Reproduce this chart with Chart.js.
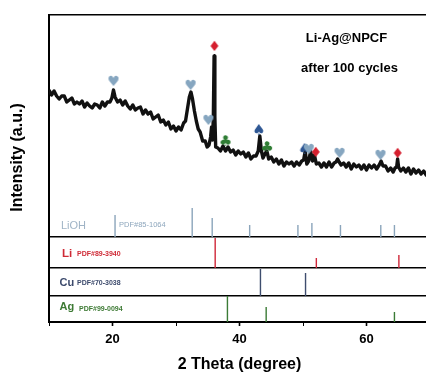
<!DOCTYPE html>
<html>
<head>
<meta charset="utf-8">
<script src="https://cdn.jsdelivr.net/npm/chart.js@4"></script>
<style>
  html, body { margin: 0; padding: 0; background: #fff; overflow: hidden; }
  #wrap { width: 438px; height: 374px; }
</style>
</head>
<body>
<div id="wrap"><canvas id="xrd" width="438" height="374"></canvas></div>
<script>
// measured pattern (2 theta, intensity in a.u.)
const twoTheta = [
  10.0, 10.4, 10.8, 11.2, 11.6, 12.0, 12.4, 12.8, 13.2, 13.6, 14.0, 14.4, 14.8, 15.2, 15.6, 16.0,
  16.4, 16.8, 17.2, 17.6, 18.0, 18.4, 18.8, 19.2, 19.6, 19.9, 20.15, 20.4, 20.8, 21.2, 21.6, 22.0,
  22.4, 22.8, 23.2, 23.6, 24.0, 24.4, 24.8, 25.2, 25.6, 26.0, 26.4, 26.8, 27.2, 27.6, 28.0, 28.4,
  28.8, 29.2, 29.6, 30.0, 30.4, 30.8, 31.2, 31.5, 31.8, 32.1, 32.35, 32.6, 32.9, 33.2, 33.5, 33.8,
  34.2, 34.6, 34.9, 35.2, 35.45, 35.6, 35.75, 35.88, 36.0, 36.12, 36.25, 36.6, 37.0, 37.4, 37.8, 38.2,
  38.6, 39.0, 39.4, 39.8, 40.2, 40.6, 41.0, 41.4, 41.8, 42.2, 42.6, 42.95, 43.2, 43.45, 43.7, 44.0,
  44.3, 44.6, 45.0, 45.4, 45.8, 46.2, 46.6, 47.0, 47.4, 47.8, 48.2, 48.6, 49.0, 49.4, 49.8, 50.1,
  50.35, 50.6, 50.9, 51.2, 51.5, 51.8, 52.1, 52.5, 52.9, 53.3, 53.7, 54.1, 54.5, 54.9, 55.2, 55.45,
  55.7, 56.0, 56.4, 56.8, 57.2, 57.6, 58.0, 58.4, 58.8, 59.2, 59.6, 60.0, 60.4, 60.8, 61.2, 61.6,
  62.0, 62.3, 62.6, 63.0, 63.4, 63.8, 64.2, 64.5, 64.75, 64.9, 65.05, 65.4, 65.8, 66.2, 66.6, 67.0,
  67.4, 67.8, 68.2, 68.6, 69.0, 69.4, 69.8, 70.0
];
const intensity = [
  147, 142, 146, 141, 138, 141, 141, 135, 137, 139, 133, 135, 133, 136, 130, 134,
  131, 129, 133, 132, 129, 135, 131, 135, 135, 139, 147, 140, 135, 137, 132, 136,
  131, 128, 132, 127, 129, 130, 123, 127, 123, 125, 118, 120, 122, 115, 117, 112,
  115, 108, 111, 106, 110, 107, 114, 116, 128, 140, 145, 138, 126, 116, 108, 105,
  96, 96, 90, 92, 100, 110, 97, 120, 181, 120, 90, 89, 86, 91, 86, 90,
  85, 87, 82, 86, 83, 85, 80, 84, 78, 81, 81, 86, 101, 86, 79, 83,
  86, 78, 80, 75, 78, 73, 77, 71, 75, 73, 75, 71, 75, 72, 76, 77,
  86, 73, 76, 86, 76, 82, 73, 74, 70, 74, 70, 75, 70, 74, 75, 78,
  75, 72, 74, 70, 74, 68, 73, 70, 72, 68, 72, 67, 72, 69, 72, 68,
  72, 76, 71, 71, 66, 69, 65, 69, 70, 78, 70, 66, 69, 65, 69, 63,
  68, 64, 67, 63, 66, 62, 64, 63
];

// reference cards (position, relative stick height)
const lohPos = [20.4, 32.55, 35.7, 41.6, 49.2, 51.4, 55.9, 62.25, 64.4];
const lohH = [22, 29, 19, 12, 12, 14, 12, 12, 12];
const liPos = [36.17, 52.1, 65.1];
const liH = [30, 10, 13];
const cuPos = [43.3, 50.4];
const cuH = [27, 23];
const agPos = [38.1, 44.2, 64.4];
const agH = [26, 15, 10];

// peak markers
const heartX = [20.15, 32.3, 35.1, 50.9, 55.75, 62.2];
const heartY = [155, 151, 116, 87, 83, 81];
const diamondX = [36.05, 52.0, 64.9];
const diamondY = [190, 84, 83];
const clubX = [37.8, 44.35];
const clubY = [95, 89];
const spadeX = [43.05, 50.25];
const spadeY = [106, 87];

const xTicks = [20, 40, 60];

const FONT = '"Liberation Sans", Arial, sans-serif';

function pairs(xs, ys) {
  return xs.map((x, i) => ({ x: x, y: ys[i] }));
}

function sticks(pos, h) {
  const pts = [];
  pos.forEach((p, i) => {
    pts.push({ x: p, y: 0 }, { x: p, y: h[i] }, { x: p, y: null });
  });
  return pts;
}

function glyph(ch, color, size) {
  const c = document.createElement('canvas');
  c.width = 16;
  c.height = 16;
  const g = c.getContext('2d');
  g.fillStyle = color;
  g.font = size + 'px "DejaVu Sans"';
  g.textAlign = 'center';
  g.textBaseline = 'middle';
  g.fillText(ch, 8, 8.5);
  return c;
}

function marker(xs, ys, ch, color, size) {
  return {
    type: 'scatter',
    data: pairs(xs, ys),
    yAxisID: 'yMain',
    pointStyle: glyph(ch, color, size),
    pointRadius: 7,
    showLine: false
  };
}

function stickSet(pos, h, color, axis) {
  return {
    type: 'line',
    data: sticks(pos, h),
    yAxisID: axis,
    borderColor: color,
    borderWidth: 1.4,
    pointRadius: 0,
    spanGaps: false
  };
}

// texts placed around the frame
const texts = {
  id: 'texts',
  afterDraw(chart) {
    const ctx = chart.ctx;
    ctx.save();
    ctx.textBaseline = 'middle';

    ctx.fillStyle = '#000';
    ctx.textAlign = 'center';
    ctx.font = 'bold 13px ' + FONT;
    ctx.fillText('Li-Ag@NPCF', 346.5, 38);
    ctx.fillText('after 100 cycles', 349.5, 68.5);

    ctx.save();
    ctx.translate(17.5, 157.5);
    ctx.rotate(-Math.PI / 2);
    ctx.font = 'bold 16px ' + FONT;
    ctx.fillText('Intensity (a.u.)', 0, 0);
    ctx.restore();

    ctx.textAlign = 'left';
    const rows = [
      ['LiOH', '11px', '#a0b4c6', 61, 225.5],
      ['PDF#85-1064', '7.5px', '#8ea7bd', 119, 225],
      ['Li', 'bold 11.5px', '#cf2a36', 62, 253.5],
      ['PDF#89-3940', 'bold 7px', '#cf2a36', 77, 254],
      ['Cu', 'bold 11px', '#3c4a6c', 59.5, 282.5],
      ['PDF#70-3038', 'bold 7px', '#3c4a6c', 77, 283],
      ['Ag', 'bold 11px', '#3d7a34', 59.5, 306.5],
      ['PDF#99-0094', 'bold 7px', '#3d7a34', 79, 309]
    ];
    rows.forEach(r => {
      ctx.font = r[1] + ' ' + FONT;
      ctx.fillStyle = r[2];
      ctx.fillText(r[0], r[3], r[4]);
    });
    ctx.restore();
  }
};

function panelAxis(max, weight, tickVals) {
  return {
    type: 'linear',
    position: 'left',
    stack: 'xrd',
    stackWeight: max,
    weight: weight,
    min: 0,
    max: max,
    afterFit: s => { s.width = 0; },
    afterBuildTicks: s => { s.ticks = tickVals.map(v => ({ value: v })); },
    ticks: { display: false },
    grid: { color: '#000', lineWidth: 1.6, drawTicks: false },
    border: { color: '#000', width: 2 }
  };
}

new Chart(document.getElementById('xrd'), {
  type: 'line',
  data: {
    datasets: [
      marker(heartX, heartY, '\u2665', '#86a6c0', 14),
      marker(diamondX, diamondY, '\u2666', '#d51f2e', 14),
      marker(clubX, clubY, '\u2663', '#2f7d34', 15),
      marker(spadeX, spadeY, '\u2660', '#2e5794', 15),
      {
        data: pairs(twoTheta, intensity),
        yAxisID: 'yMain',
        borderColor: '#111',
        borderWidth: 3.4,
        borderJoinStyle: 'round',
        pointRadius: 0,
        tension: 0
      },
      stickSet(lohPos, lohH, '#8ba5bb', 'yMain'),
      stickSet(liPos, liH, '#d0283a', 'yLi'),
      stickSet(cuPos, cuH, '#3e4d6e', 'yCu'),
      stickSet(agPos, agH, '#3b7b36', 'yAg')
    ]
  },
  options: {
    responsive: false,
    devicePixelRatio: 1,
    animation: false,
    layout: { padding: { left: 49, right: 1, top: 15, bottom: 0 } },
    plugins: { legend: { display: false }, tooltip: { enabled: false } },
    scales: {
      x: {
        type: 'linear',
        position: 'bottom',
        min: 10,
        max: 70,
        afterFit: s => { s.height = 52; },
        ticks: {
          stepSize: 10,
          padding: 6,
          autoSkip: false,
          maxRotation: 0,
          color: '#000',
          font: { family: FONT, size: 13, weight: 'bold' },
          callback: v => (xTicks.includes(v) ? v : '')
        },
        grid: {
          drawOnChartArea: false,
          tickLength: 4,
          tickColor: '#000',
          tickWidth: c => (xTicks.includes(c.tick && c.tick.value) ? 1.6 : 1)
        },
        border: { color: '#000', width: 2 },
        title: {
          display: true,
          text: '2 Theta (degree)',
          color: '#000',
          font: { family: FONT, size: 16, weight: 'bold' },
          padding: { top: 0, bottom: 0 }
        }
      },
      yAg: panelAxis(26, 1, [0]),
      yCu: panelAxis(28, 2, [0]),
      yLi: panelAxis(31, 3, [0]),
      yMain: panelAxis(222, 4, [0, 222])
    }
  },
  plugins: [texts]
});
</script>
</body>
</html>
